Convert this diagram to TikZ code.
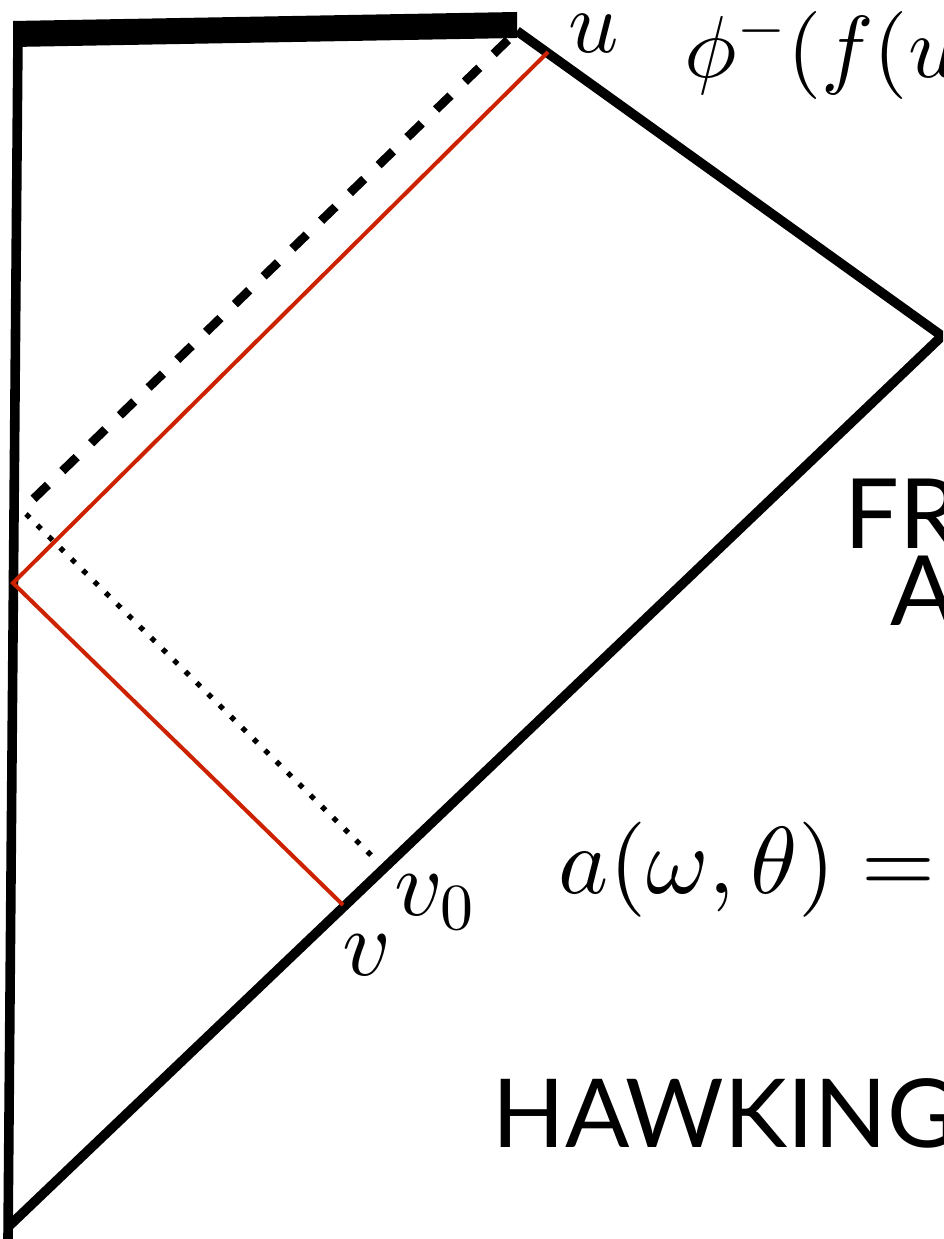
\RequirePackage{fix-cm}
\documentclass[tikz,border=0pt]{standalone}
\usepackage[no-math]{fontspec}
\newfontfamily\capsfont{Lato}
\usepackage{tikz}
\definecolor{raycolor}{HTML}{CC2200}
% math in the 10pt designs, scaled up
\DeclareFontShape{OML}{cmm}{m}{it}{<->cmmi10}{}
\DeclareFontShape{OT1}{cmr}{m}{n}{<->cmr10}{}
\DeclareFontShape{OMS}{cmsy}{m}{n}{<->cmsy10}{}

\tikzset{
  wall/.style={line width=2.4pt,line join=miter},
  ray/.style={raycolor,line width=1pt},
  label/.style={anchor=base west,inner sep=0pt},
}

\begin{document}
\begin{tikzpicture}[x=0.25pt,y=-0.25pt]
  \useasboundingbox (0,0) rectangle (943,1239);
  \clip (0,0) rectangle (943,1239);
  % corners of the diagram
  \coordinate (origin) at (18,34);
  \coordinate (floor) at (8,1239);
  \coordinate (sing) at (517,31);
  \coordinate (iplus) at (942,336);
  \coordinate (past) at (8,1227);
  % singularity and boundaries
  \fill (13,21) -- (517,12) -- (517,38) -- (13,47) -- cycle;
  \draw[wall] (origin) -- (floor);
  \draw[wall] (sing) -- (iplus) -- (past);
  % rays
  \coordinate (hitu) at (548,52);
  \coordinate (refl) at (13,583);
  \coordinate (hitv) at (343,905);
  \draw[ray] (hitu) -- (refl) -- (hitv);
  \draw[line width=2.2pt,dash pattern=on 5pt off 5pt] (508,40) -- (22,510);
  \draw[line width=1.3pt,dash pattern=on 1.3pt off 2.7pt] (26,514) -- (377,861);
  % labels
  \node[label,font=\fontsize{22}{24}\selectfont] (ulab) at (568,53) {$u$};
  \node[label,font=\fontsize{22}{24}\selectfont] (phi) at (684,78) {$\phi^-(f(u$};
  \node[label,font=\fontsize{23.5}{28}\selectfont] (vzero) at (394,915) {$v_0$};
  \node[label,font=\fontsize{23.5}{28}\selectfont] (vlab) at (342,975) {$v$};
  \node[label,font=\fontsize{23.8}{28}\selectfont] (amp) at (558,893) {$a(\omega,\theta) =$};
  \node[label,font=\capsfont\fontsize{24.25}{28}\selectfont] (fr) at (844,548) {FR};
  \node[label,font=\capsfont\fontsize{24.25}{28}\selectfont] (aa) at (890,625) {A};
  \node[label,font=\capsfont\fontsize{23.8}{28}\selectfont] (hawk) at (492,1147) {HAWKING};
\end{tikzpicture}
\end{document}
